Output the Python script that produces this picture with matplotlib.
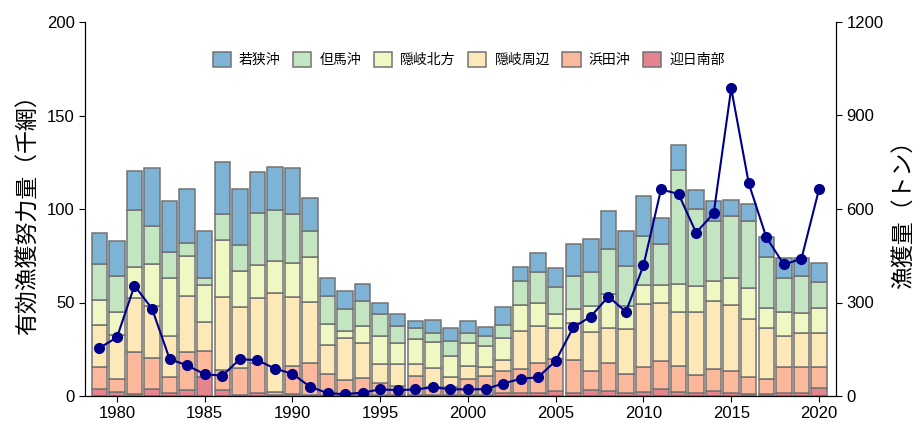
import numpy as np
import matplotlib
matplotlib.use('Agg')
import matplotlib.pyplot as plt

plt.rcParams['font.family'] = ['Liberation Sans', 'Noto Sans CJK JP', 'DejaVu Sans']

years = list(range(1979, 2021))

# 有効漁獲努力量（千網） 海域別
geijitsu = [3.6, 2.3, 1.1, 3.9, 1.4, 3.2, 10.0, 3.2, 0.5, 1.8, 0.5, 0.9, 0.3, 0.3, 0.4, 0.4, 0.3, 0.3, 0.3, 0.3, 0.3,
            0.3, 0.5, 1.4, 1.4, 1.8, 2.7, 1.8, 3.2, 2.9, 1.4, 2.3, 3.6, 2.3, 1.4, 2.9, 1.4, 0.9, 0.9, 1.4, 1.8, 4.1]
hamada = [11.7, 6.6, 22.4, 16.3, 8.9, 20.3, 14.1, 10.7, 14.3, 15.7, 1.5, 15.1, 17.2, 11.5, 8.2, 9.0, 6.5, 5.2, 10.2, 4.7, 4.3,
          8.6, 10.2, 11.8, 13.3, 15.7, 16.9, 17.6, 10.3, 14.6, 10.4, 13.0, 15.1, 13.5, 9.8, 11.4, 12.0, 9.4, 8.2, 14.3, 13.5, 11.2]
oki_shuhen = [22.7, 23.5, 28.7, 28.1, 22.0, 30.1, 15.5, 38.9, 33.0, 34.7, 52.9, 36.8, 32.9, 15.5, 22.6, 18.8, 10.5, 11.6, 6.4, 9.8, 5.7,
              7.1, 5.0, 6.1, 20.1, 20.1, 16.9, 19.8, 20.7, 18.7, 23.8, 33.9, 30.9, 28.9, 33.9, 36.7, 35.1, 31.0, 27.1, 16.6, 18.6, 18.6]
oki_hoppo = [13.3, 12.3, 16.8, 22.3, 30.8, 21.1, 19.8, 30.6, 19.0, 17.9, 17.5, 18.3, 23.9, 11.0, 3.4, 9.2, 14.6, 11.4, 13.6, 14.2, 11.1,
             12.2, 11.0, 11.9, 13.7, 12.1, 7.5, 7.2, 13.9, 18.2, 12.5, 10.2, 9.6, 15.0, 13.7, 10.7, 14.4, 16.3, 10.7, 12.4, 10.3, 13.0]
tajima = [19.3, 19.6, 30.5, 20.5, 14.1, 7.1, 3.5, 13.7, 14.1, 27.9, 26.9, 26.2, 13.8, 15.2, 11.7, 13.2, 12.0, 8.9, 5.7, 4.5, 8.2,
          5.3, 5.4, 6.9, 12.9, 16.8, 14.1, 17.8, 18.2, 24.0, 21.6, 26.2, 22.1, 61.2, 41.0, 32.1, 33.5, 36.2, 27.6, 18.6, 20.0, 14.2]
wakasa = [16.4, 18.6, 21.0, 30.7, 26.9, 28.7, 25.5, 28.2, 30.0, 21.8, 23.2, 24.6, 17.6, 9.4, 10.0, 9.1, 6.0, 6.5, 3.7, 7.1, 6.8,
          6.8, 5.0, 9.3, 7.7, 10.0, 10.1, 16.9, 17.8, 20.7, 18.5, 21.3, 13.7, 13.1, 10.5, 10.5, 8.4, 8.7, 10.7, 10.7, 9.4, 10.2]

# 漁獲量（トン）
catch = [154, 188, 354, 280, 119, 98, 70, 65, 118, 115, 88, 71, 30, 9, 6, 11, 21, 19, 21, 28, 22,
         21, 22, 40, 55, 60, 113, 220, 255, 319, 270, 419, 663, 648, 524, 586, 987, 682, 509, 422, 440, 663]

areas = ['迎日南部', '浜田沖', '隠岐周辺', '隠岐北方', '但馬沖', '若狭沖']
series = [geijitsu, hamada, oki_shuhen, oki_hoppo, tajima, wakasa]
colors = ['#e5848f', '#fcb89a', '#fde9b8', '#eff8c3', '#c3e5c2', '#7eb3d5']

fig = plt.figure(figsize=(9.24, 4.24), dpi=100)
ax1 = fig.add_axes([85 / 924, 28 / 424, 751 / 924, 374 / 424])

bottom = np.zeros(len(years))
bars = []
for name, vals, c in zip(areas, series, colors):
    b = ax1.bar(years, vals, width=0.88, bottom=bottom, color=c, edgecolor='#737373',
                linewidth=1.1, label=name)
    bars.append(b)
    bottom += np.array(vals)

ax1.set_xlim(1978.18, 2020.97)
ax1.set_ylim(0, 200)
ax1.set_xticks(range(1980, 2021, 5))
ax1.set_yticks([0, 50, 100, 150, 200])
ax1.set_ylabel('有効漁獲努力量（千網）', fontsize=16.5, labelpad=6)
ax1.tick_params(labelsize=12, direction='out', length=4)
ax1.spines['top'].set_visible(False)

ax2 = ax1.twinx()
ax2.plot(years, catch, color='#00008b', marker='o', markersize=7, linewidth=1.5)
ax2.set_ylim(0, 1200)
ax2.set_yticks([0, 300, 600, 900, 1200])
ax2.set_ylabel('漁獲量（トン）', fontsize=16.5, labelpad=6)
ax2.tick_params(labelsize=12, direction='out', length=4)
ax2.spines['top'].set_visible(False)

# 凡例は上から若狭沖の順
ax1.legend(bars[::-1], areas[::-1], loc='center', bbox_to_anchor=(0.511, 0.9), ncol=6,
           frameon=False, fontsize=10, handlelength=1.3, handleheight=1.3,
           columnspacing=0.9, handletextpad=0.6)

fig.savefig('out.png', dpi=100)
